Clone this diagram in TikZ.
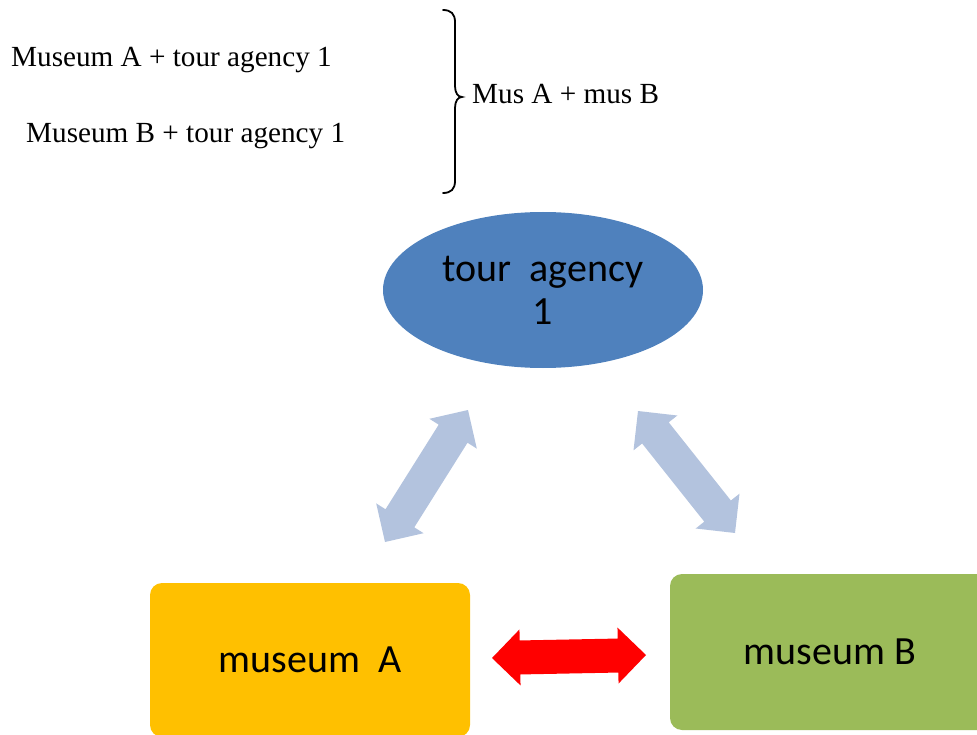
\documentclass[tikz,border=0pt]{standalone}
\usepackage{fontspec}
\setmainfont{Liberation Serif}
\newfontfamily\boxfont{Carlito}
\usetikzlibrary{shapes.geometric,calc}

\definecolor{agencyblue}{HTML}{4F81BD}
\definecolor{museumA}{HTML}{FFC000}
\definecolor{museumB}{HTML}{9BBB59}
\definecolor{linkblue}{HTML}{B3C3DE}
\definecolor{linkred}{HTML}{FF0000}

% Notched double-headed block arrow between two named tip coordinates
\newcommand\fatarrow[3]{%
  \path ($(#1)!28pt!(#2)$) coordinate (fa-h1)
        ($(#2)!28pt!(#1)$) coordinate (fa-h2);
  \fill[#3] (#1) -- ($(fa-h1)!28pt!90:(#2)$) -- ($(fa-h1)!17pt!90:(#2)$)
    -- ($(fa-h2)!17pt!-90:(#1)$) -- ($(fa-h2)!28pt!-90:(#1)$) -- (#2)
    -- ($(fa-h2)!28pt!90:(#1)$) -- ($(fa-h2)!17pt!90:(#1)$)
    -- ($(fa-h1)!17pt!-90:(#2)$) -- ($(fa-h1)!28pt!-90:(#2)$) -- cycle;
}

\tikzset{
  serifnote/.style={inner sep=0pt, font=\fontsize{29.2}{35}\selectfont},
  boxlabel/.style={font=\boxfont\fontsize{40}{43}\selectfont, align=center},
  museumbox/.style={rectangle, rounded corners=12pt, inner sep=0pt,
    minimum width=320pt, boxlabel},
}

\begin{document}
\begin{tikzpicture}[x=1pt,y=-1pt]
\useasboundingbox (0,0) rectangle (977,735);
\clip (0,0) rectangle (977,735);

% combinations grouped by the brace
\node[serifnote, anchor=base west] (pairA) at (11,67) {Museum A + tour agency 1};
\node[serifnote, anchor=base west] (pairB) at (26,143) {Museum B + tour agency 1};
\draw[line width=1.8pt, line cap=round]
  (443,10) .. controls (451,10) and (455,14) .. (455,22) -- (455,86)
  .. controls (455,93) and (458,97) .. (462,97)
  .. controls (458,97) and (455,101) .. (455,108) -- (455,181)
  .. controls (455,189) and (451,193) .. (443,193);
\node[serifnote, anchor=base west] (pairAB) at (472,104) {Mus A + mus B};

% the three partners
\node[ellipse, fill=agencyblue, minimum width=320pt, minimum height=156pt,
      inner sep=0pt, boxlabel] (agency) at (543,290) {tour\ \ agency\\1};
\node[museumbox, fill=museumA, minimum height=154pt] (musA) at (310,660) {museum\ \ A};
\node[museumbox, fill=museumB, minimum height=156pt] (musB) at (830,652) {museum B};

% links
\coordinate (la1) at (385,542);
\coordinate (la2) at (468,410);
\coordinate (lb1) at (638,411);
\coordinate (lb2) at (735,533);
\coordinate (lc1) at (492,658);
\coordinate (lc2) at (646,655);
\fatarrow{la1}{la2}{linkblue}
\fatarrow{lb1}{lb2}{linkblue}
\fatarrow{lc1}{lc2}{linkred}
\end{tikzpicture}
\end{document}
